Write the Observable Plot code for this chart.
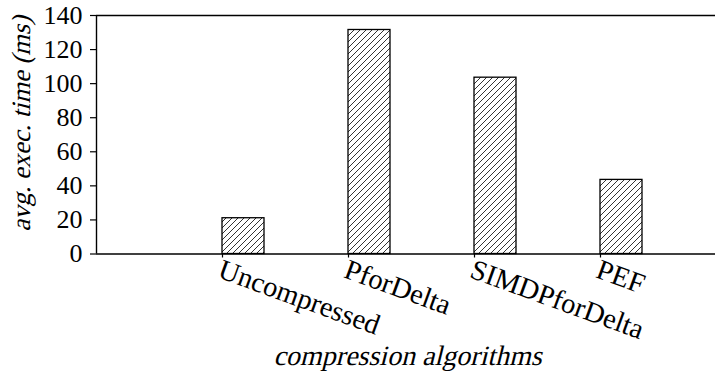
<!DOCTYPE html>
<html>
<head>
<meta charset="utf-8">
<script src="https://cdn.jsdelivr.net/npm/d3@7"></script>
<script src="https://cdn.jsdelivr.net/npm/@observablehq/plot@0.6"></script>
<style>
  html, body { margin: 0; padding: 0; background: white; }
  svg { overflow: hidden; }
</style>
</head>
<body>
<div id="chart"></div>
<script>
const categories = ["Uncompressed", "PforDelta", "SIMDPforDelta", "PEF"];
const values = [21, 131.5, 103.5, 43.5];
const yTicks = [0, 20, 40, 60, 80, 100, 120, 140];
const xLabel = "compression algorithms";
const yLabel = "avg. exec. time (ms)";

const barWidth = 1 / 3;
const rows = categories.map((c, i) => ({name: c, pos: i + 1, value: values[i]}));

const serif = "'Liberation Serif', 'Times New Roman', serif";

const svg = Plot.plot({
  width: 715,
  height: 381,
  marginLeft: 96,
  marginRight: -11,
  marginTop: 15,
  marginBottom: 127.5,
  x: {domain: [0, 5]},
  y: {domain: [0, 140]},
  style: {fontFamily: serif, fontSize: "26px", color: "black", background: "white"},
  marks: [
    Plot.rectY(rows, {
      x1: "pos",
      x2: d => d.pos + barWidth,
      y: "value",
      fill: "url(#hatch)",
      stroke: "black",
      strokeWidth: 1.3
    }),
    Plot.ruleY([0, 140], {stroke: "black", strokeWidth: 1.4}),
    Plot.ruleX([0], {stroke: "black", strokeWidth: 1.4}),
    Plot.axisY({ticks: yTicks, tickSize: 6, tickPadding: 8, fontSize: 26, label: null, strokeWidth: 1.2}),
    Plot.axisX({ticks: rows.map(d => d.pos), tickSize: 4, tickFormat: () => "", label: null, strokeWidth: 1.2}),
    Plot.text(rows, {
      x: "pos",
      y: 0,
      text: "name",
      rotate: 20,
      textAnchor: "start",
      lineAnchor: "top",
      dx: 1,
      dy: 4,
      fontSize: 28.5
    }),
    Plot.text([yLabel], {
      frameAnchor: "left",
      rotate: -90,
      textAnchor: "middle",
      lineAnchor: "bottom",
      dx: -67,
      dy: -11,
      fontSize: 26.5
    }),
    Plot.text([xLabel], {
      frameAnchor: "bottom",
      textAnchor: "middle",
      lineAnchor: "bottom",
      dx: -4,
      dy: 111,
      fontSize: 28
    })
  ]
});

// faux italic (serif italic face is not available): skew the regular serif face
d3.select(svg).selectAll("text")
  .filter(function () { return this.textContent === xLabel || this.textContent === yLabel; })
  .each(function () {
    const t = this.getAttribute("transform") || "";
    this.setAttribute("transform", (t + " skewX(-14)").trim());
  });

const defs = d3.select(svg).insert("defs", ":first-child");
const pat = defs.append("pattern")
  .attr("id", "hatch")
  .attr("patternUnits", "userSpaceOnUse")
  .attr("width", 6)
  .attr("height", 6);
pat.append("rect").attr("width", 6).attr("height", 6).attr("fill", "white");
pat.append("path")
  .attr("d", "M0,6 L6,0 M-1.5,1.5 L1.5,-1.5 M4.5,7.5 L7.5,4.5")
  .attr("stroke", "black")
  .attr("stroke-width", 0.8);

document.getElementById("chart").appendChild(svg);
</script>
</body>
</html>
